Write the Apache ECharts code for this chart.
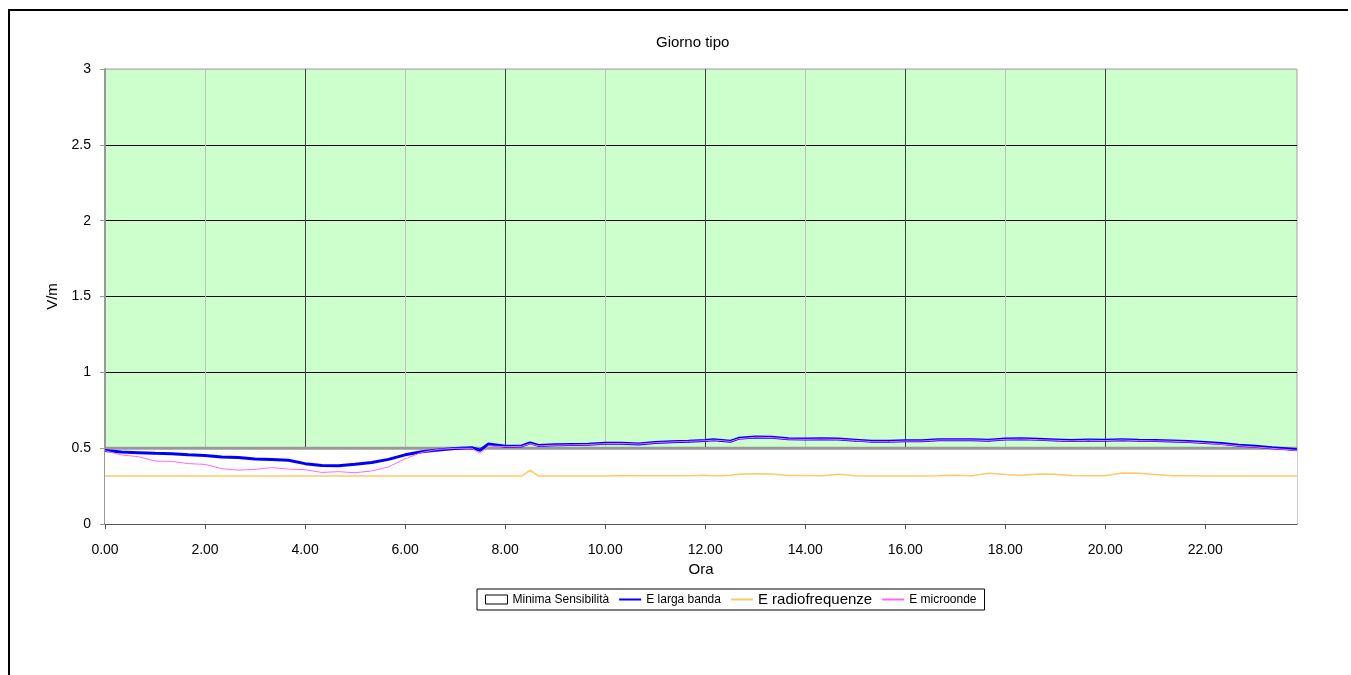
<!DOCTYPE html>
<html>
<head>
<meta charset="utf-8">
<title>Giorno tipo</title>
<script src="https://cdn.jsdelivr.net/npm/echarts@6.0.0/dist/echarts.min.js"></script>
<style>
  html, body { margin: 0; padding: 0; background: #fff; }
  #grafico { width: 1351px; height: 675px; }
</style>
</head>
<body>
<div id="grafico"></div>
<script>
// Ore del giorno (ore decimali)
const ore = [
    0, 0.333, 0.667, 1, 1.333, 1.667, 2, 2.333, 2.667, 3,
    3.333, 3.667, 4, 4.333, 4.667, 5, 5.333, 5.667, 6, 6.333,
    6.667, 7, 7.333, 7.5, 7.667, 8, 8.333, 8.5, 8.667, 9,
    9.333, 9.667, 10, 10.333, 10.667, 11, 11.333, 11.667, 12, 12.167,
    12.333, 12.5, 12.667, 13, 13.333, 13.667, 14, 14.333, 14.667, 15,
    15.333, 15.667, 16, 16.333, 16.667, 17, 17.333, 17.667, 18, 18.333,
    18.667, 19, 19.333, 19.667, 20, 20.333, 20.667, 21, 21.333, 21.667,
    22, 22.333, 22.667, 23, 23.333, 23.667, 23.833
];

// E larga banda (V/m)
const largaBanda = [
    0.485, 0.474, 0.470, 0.466, 0.463, 0.456, 0.452, 0.441, 0.438, 0.428,
    0.426, 0.420, 0.398, 0.386, 0.384, 0.394, 0.406, 0.426, 0.456, 0.476,
    0.488, 0.498, 0.503, 0.486, 0.527, 0.513, 0.515, 0.535, 0.518, 0.522,
    0.524, 0.526, 0.532, 0.532, 0.528, 0.538, 0.543, 0.546, 0.550, 0.556,
    0.551, 0.545, 0.565, 0.574, 0.572, 0.562, 0.560, 0.562, 0.560, 0.553,
    0.545, 0.545, 0.549, 0.549, 0.556, 0.556, 0.556, 0.553, 0.560, 0.562,
    0.558, 0.554, 0.550, 0.554, 0.552, 0.556, 0.552, 0.550, 0.548, 0.544,
    0.538, 0.530, 0.520, 0.512, 0.503, 0.495, 0.490
];

// E radiofrequenze (V/m)
const radiofrequenze = [
    0.316, 0.316, 0.316, 0.316, 0.316, 0.316, 0.316, 0.316, 0.316, 0.316,
    0.316, 0.316, 0.316, 0.316, 0.316, 0.316, 0.316, 0.316, 0.316, 0.316,
    0.316, 0.316, 0.316, 0.316, 0.316, 0.316, 0.316, 0.355, 0.316, 0.316,
    0.316, 0.316, 0.316, 0.320, 0.318, 0.318, 0.318, 0.318, 0.322, 0.318,
    0.318, 0.322, 0.328, 0.332, 0.330, 0.320, 0.320, 0.318, 0.328, 0.318,
    0.316, 0.316, 0.316, 0.316, 0.318, 0.322, 0.318, 0.334, 0.326, 0.322,
    0.330, 0.328, 0.320, 0.318, 0.318, 0.336, 0.334, 0.326, 0.318, 0.318,
    0.316, 0.316, 0.316, 0.316, 0.316, 0.316, 0.316
];

// E microonde (V/m)
const microonde = [
    0.483, 0.455, 0.444, 0.415, 0.413, 0.398, 0.393, 0.365, 0.355, 0.360,
    0.372, 0.362, 0.358, 0.340, 0.345, 0.338, 0.350, 0.376, 0.430, 0.472,
    0.492, 0.499, 0.499, 0.466, 0.515, 0.510, 0.512, 0.530, 0.515, 0.520,
    0.522, 0.524, 0.530, 0.531, 0.527, 0.536, 0.541, 0.545, 0.549, 0.553,
    0.550, 0.544, 0.562, 0.572, 0.570, 0.560, 0.558, 0.560, 0.558, 0.551,
    0.543, 0.543, 0.547, 0.547, 0.554, 0.554, 0.554, 0.551, 0.558, 0.560,
    0.556, 0.552, 0.548, 0.552, 0.550, 0.554, 0.550, 0.548, 0.546, 0.541,
    0.535, 0.526, 0.516, 0.508, 0.499, 0.490, 0.485
];

// Minima sensibilità dello strumento
const sogliaOre = [0, 23.833];
const sogliaValori = [0.5, 0.5];

// Etichette asse x (ogni 2 ore)
const oreEtichette = [0, 2, 4, 6, 8, 10, 12, 14, 16, 18, 20, 22];

function coppie(xs, ys) {
    return xs.map(function (x, i) { return [x, ys[i]]; });
}

var chartDom = document.getElementById('grafico');
var myChart = echarts.init(chartDom);
var font = "'Liberation Sans', Arial, sans-serif";
// simbolo invisibile nella legenda: resta solo la linea
var soloLinea = { color: 'transparent', borderWidth: 0, opacity: 0 };

var option = {
    animation: false,
    textStyle: { fontFamily: font, color: '#000' },
    title: {
        text: 'Giorno tipo',
        left: 651,
        top: 30,
        textStyle: { fontFamily: font, fontSize: 15, fontWeight: 'normal', color: '#000' }
    },
    // Cornice esterna
    graphic: [{
        type: 'polyline',
        shape: { points: [[9, 675], [9, 10], [1348, 10]] },
        style: { stroke: '#000', lineWidth: 2, fill: null }
    }],
    legend: {
        left: 477,
        top: 589,
        padding: [3, 8],
        itemGap: 9,
        itemWidth: 22,
        itemHeight: 9,
        borderColor: '#000',
        borderWidth: 1,
        textStyle: { fontFamily: font, fontSize: 12, color: '#000' },
        data: [
            { name: 'Minima Sensibilità', icon: 'rect', itemStyle: { color: '#fff', borderColor: '#000', borderWidth: 1 } },
            { name: 'E larga banda', itemStyle: soloLinea },
            { name: 'E radiofrequenze', itemStyle: soloLinea, textStyle: { fontSize: 15 } },
            { name: 'E microonde', itemStyle: soloLinea }
        ]
    },
    grid: {
        left: 105,
        right: 54,
        top: 69,
        bottom: 151,
        show: true,
        backgroundColor: '#CCFFCC',
        borderColor: '#a0a0a0',
        borderWidth: 1
    },
    xAxis: {
        type: 'value',
        min: 0,
        max: 23.833,
        interval: 1,
        name: 'Ora',
        nameLocation: 'middle',
        nameGap: 38,
        nameTextStyle: { fontFamily: font, fontSize: 15, color: '#000' },
        axisLine: { show: true, lineStyle: { color: '#555', width: 1.5 } },
        axisTick: { show: true, length: 5, customValues: oreEtichette, lineStyle: { color: '#555' } },
        axisLabel: {
            customValues: oreEtichette,
            margin: 19,
            fontFamily: font,
            fontSize: 14,
            color: '#000',
            formatter: function (v) { return v.toFixed(2); }
        },
        splitLine: {
            show: true,
            showMaxLine: false,
            lineStyle: { color: ['#404040', '#c0c0c0'], width: 1 }
        }
    },
    yAxis: {
        type: 'value',
        min: 0,
        max: 3,
        interval: 0.5,
        name: 'V/m',
        nameLocation: 'middle',
        nameGap: 42,
        nameTextStyle: { fontFamily: font, fontSize: 15, color: '#000' },
        axisLine: { show: true, lineStyle: { color: '#999', width: 2 } },
        axisTick: { show: true, length: 5, lineStyle: { color: '#999' } },
        axisLabel: { margin: 14, fontFamily: font, fontSize: 14, color: '#000' },
        splitLine: {
            show: true,
            lineStyle: { color: ['#555', '#000', '#000', '#000', '#000', '#000', '#c0c0c0'], width: 1 }
        }
    },
    series: [
        {
            name: 'Minima Sensibilità',
            type: 'line',
            data: coppie(sogliaOre, sogliaValori),
            symbol: 'none',
            lineStyle: { color: '#999', width: 3 },
            itemStyle: { color: '#fff' },
            areaStyle: { color: '#fff', opacity: 1 }
        },
        {
            name: 'E larga banda',
            type: 'line',
            data: coppie(ore, largaBanda),
            symbol: 'none',
            lineStyle: { color: '#0000ff', width: 3 },
            itemStyle: { color: '#0000ff' }
        },
        {
            name: 'E radiofrequenze',
            type: 'line',
            data: coppie(ore, radiofrequenze),
            symbol: 'none',
            lineStyle: { color: '#ffc966', width: 1.5 },
            itemStyle: { color: '#ffc966' }
        },
        {
            name: 'E microonde',
            type: 'line',
            data: coppie(ore, microonde),
            symbol: 'none',
            lineStyle: { color: '#ff66ff', width: 1 },
            itemStyle: { color: '#ff66ff' }
        }
    ]
};

myChart.setOption(option);
</script>
</body>
</html>
